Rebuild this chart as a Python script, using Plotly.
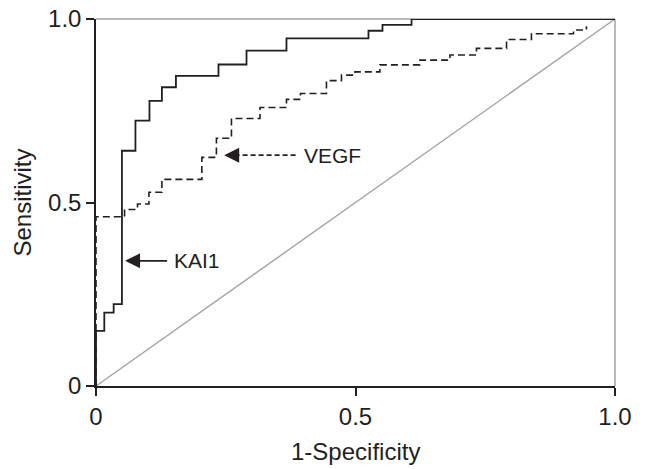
import plotly.graph_objects as go

# ROC step vertices (1-specificity, sensitivity)
kai1_fpr = [0, 0, 0.016, 0.034, 0.05, 0.076, 0.103, 0.127, 0.154, 0.236, 0.29, 0.367, 0.525, 0.552, 0.608, 1.0]
kai1_tpr = [0, 0.15, 0.20, 0.223, 0.641, 0.723, 0.777, 0.814, 0.845, 0.876, 0.914, 0.947, 0.968, 0.984, 1.0, 1.0]

vegf_fpr = [0, 0, 0.055, 0.08, 0.102, 0.127, 0.204, 0.232, 0.261, 0.316, 0.367, 0.394, 0.444, 0.473,
            0.499, 0.547, 0.624, 0.682, 0.733, 0.791, 0.839, 0.92, 0.945]
vegf_tpr = [0, 0.461, 0.481, 0.496, 0.528, 0.563, 0.623, 0.675, 0.729, 0.759, 0.781, 0.797, 0.832, 0.847,
            0.856, 0.875, 0.888, 0.902, 0.92, 0.944, 0.96, 0.97, 0.98]

ref_x = [0, 1]
ref_y = [0, 1]

tick_vals = [0, 0.5, 1.0]
tick_text = ["0", "0.5", "1.0"]

# label arrows: (tip x, tail x, y, label)
kai1_arrow = dict(tip=0.056, tail=0.137, y=0.341, label="KAI1", label_x=0.146)
vegf_arrow = dict(tip=0.247, tail=0.387, y=0.629, label="VEGF", label_x=0.396)

INK = "#231f20"
GRAY = "#a3a3a3"
FONT = "Liberation Sans, Arial, sans-serif"

fig = go.Figure()

fig.add_trace(go.Scatter(x=ref_x, y=ref_y, mode="lines",
                         line=dict(color=GRAY, width=1.4), hoverinfo="skip", cliponaxis=False))
fig.add_trace(go.Scatter(x=vegf_fpr, y=vegf_tpr, mode="lines", line_shape="hv",
                         line=dict(color=INK, width=1.6, dash="7px,4px"), cliponaxis=False, name="VEGF"))
fig.add_trace(go.Scatter(x=kai1_fpr, y=kai1_tpr, mode="lines", line_shape="hv",
                         line=dict(color=INK, width=1.8), cliponaxis=False, name="KAI1"))

for arr, dash in ((kai1_arrow, "solid"), (vegf_arrow, "5px,3px")):
    fig.add_trace(go.Scatter(x=[arr["tip"] + 0.02, arr["tail"]], y=[arr["y"], arr["y"]], mode="lines",
                             line=dict(color=INK, width=1.6, dash=dash), hoverinfo="skip"))
    fig.add_annotation(x=arr["tip"], y=arr["y"], ax=arr["tip"] + 0.026, ay=arr["y"],
                       axref="x", ayref="y", xref="x", yref="y", text="",
                       showarrow=True, arrowhead=2, arrowsize=1.0, arrowwidth=3.0,
                       arrowcolor=INK, standoff=0)
    fig.add_annotation(x=arr["label_x"], y=arr["y"], xref="x", yref="y", text=arr["label"],
                       showarrow=False, xanchor="left", yanchor="middle",
                       font=dict(family=FONT, size=21, color=INK))

fig.add_shape(type="line", xref="paper", yref="paper", x0=0, x1=1, y0=1, y1=1,
              line=dict(color=GRAY, width=1.5), layer="below")
fig.add_shape(type="line", xref="paper", yref="paper", x0=1, x1=1, y0=0, y1=1,
              line=dict(color=GRAY, width=1.5), layer="below")

axis_common = dict(range=[0, 1], tickvals=tick_vals, ticktext=tick_text, showgrid=False,
                   zeroline=False, showline=True, linecolor=INK, linewidth=1.5,
                   ticks="outside", ticklen=8, tickwidth=1.5, tickcolor=INK, automargin=False,
                   ticklabeloverflow="allow",
                   tickfont=dict(family=FONT, size=24, color=INK))

fig.update_xaxes(**axis_common)
fig.update_yaxes(**axis_common)

fig.add_annotation(x=0.5, y=0, xref="paper", yref="paper", yshift=-65, text="1-Specificity",
                   showarrow=False, yanchor="middle", font=dict(family=FONT, size=24, color=INK))
fig.add_annotation(x=0, y=0.5, xref="paper", yref="paper", xshift=-74, text="Sensitivity",
                   showarrow=False, textangle=-90, xanchor="center", yanchor="middle",
                   font=dict(family=FONT, size=24, color=INK))

# page body adds an 8px offset; margins compensate so the plot area lands where the reference has it
fig.update_layout(width=646, height=469, margin=dict(l=88, r=39, t=11, b=91),
                  plot_bgcolor="white", paper_bgcolor="white", showlegend=False)

fig.write_html("out.html")
